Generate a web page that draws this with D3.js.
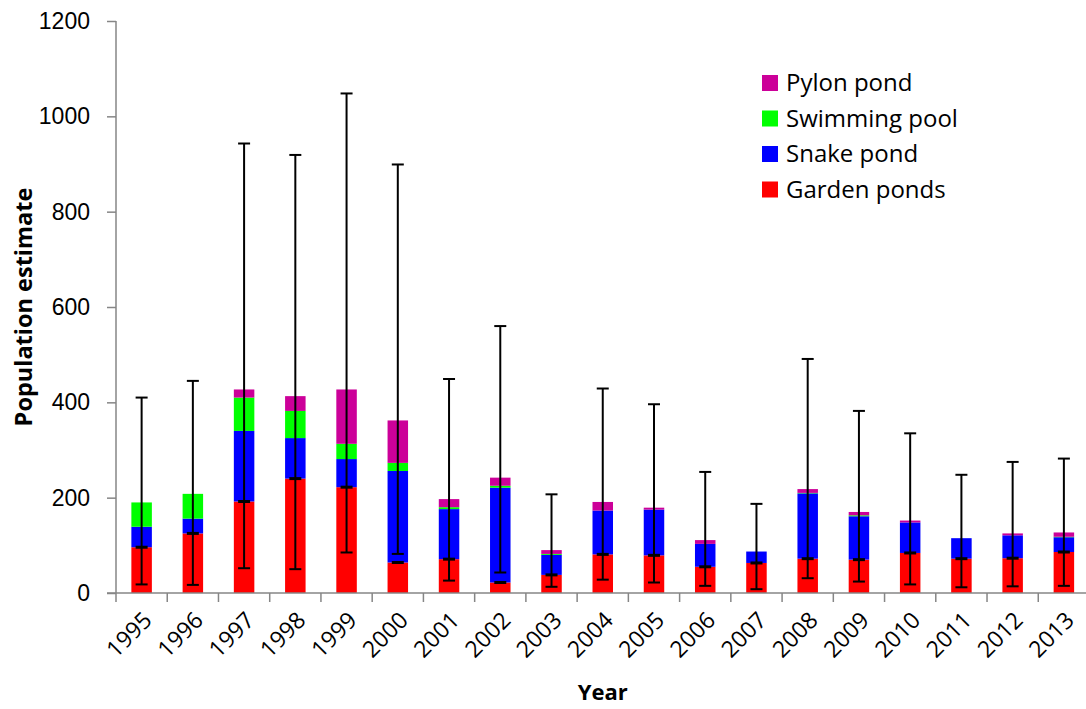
<!DOCTYPE html>
<html>
<head>
<meta charset="utf-8">
<script src="https://cdn.jsdelivr.net/npm/d3@7"></script>
<style>
  body { margin: 0; background: #fff; }
  svg { display: block; font-family: "Open Sans", sans-serif; }
</style>
</head>
<body>
<svg id="chart" width="1086" height="709"></svg>
<script>
// Data
const years = ["1995", "1996", "1997", "1998", "1999", "2000", "2001", "2002", "2003", "2004",
  "2005", "2006", "2007", "2008", "2009", "2010", "2011", "2012", "2013"];
const garden = [96, 125, 192, 240, 222, 64, 71, 22, 38, 81, 79, 55, 63, 72, 70, 84, 72, 73, 86];
const snake = [43, 31, 148, 85, 59, 192, 105, 199, 42, 92, 96, 48, 24, 137, 91, 64, 43, 48, 31];
const swimming = [51, 52, 70, 57, 32, 17, 4, 4, 2, 0, 0, 0, 0, 1, 2, 0, 0, 0, 1];
const pylon = [0, 0, 17, 31, 114, 89, 17, 17, 8, 18, 4, 8, 0, 8, 7, 4, 0, 4, 9];
const errLow = [18, 17, 52, 50, 85, 82, 26, 43, 13, 28, 22, 15, 8, 31, 24, 18, 12, 14, 15];
const errHigh = [410, 445, 943, 919, 1048, 899, 449, 560, 207, 429, 396, 254, 187, 491, 382, 335, 248, 275, 282];
const yTicks = [0, 200, 400, 600, 800, 1000, 1200];

const seriesNames = ["Garden ponds", "Snake pond", "Swimming pool", "Pylon pond"];
const seriesColors = ["#ff0000", "#0000ff", "#00ff00", "#cc0099"];

// Build table for d3.stack
const table = years.map((yr, i) => ({
  year: yr,
  "Garden ponds": garden[i],
  "Snake pond": snake[i],
  "Swimming pool": swimming[i],
  "Pylon pond": pylon[i]
}));

const margin = { top: 21, right: -3.5, bottom: 116, left: 116 },
  width = 1086 - margin.left - margin.right,
  height = 709 - margin.top - margin.bottom,
  axisColor = "#868686";

const svg = d3.select("#chart");
const g = svg.append("g")
  .attr("transform", "translate(" + margin.left + "," + margin.top + ")");

const x = d3.scaleBand().domain(years).range([0, width]).paddingInner(0.6).paddingOuter(0.3);
const y = d3.scaleLinear().domain([0, 1200]).range([height, 0]);

const stacked = d3.stack().keys(seriesNames)(table);

// Bars
g.selectAll(".series")
  .data(stacked)
  .join("g")
  .attr("fill", (d, i) => seriesColors[i])
  .selectAll("rect")
  .data(d => d)
  .join("rect")
  .attr("x", d => x(d.data.year))
  .attr("y", d => y(d[1]))
  .attr("width", x.bandwidth())
  .attr("height", d => y(d[0]) - y(d[1]));

// Error bars
const capW = 12;
const err = g.append("g").attr("stroke", "#000").attr("fill", "none");
years.forEach((yr, i) => {
  const cx = x(yr) + x.bandwidth() / 2;
  err.append("line")
    .attr("x1", cx).attr("x2", cx)
    .attr("y1", y(errLow[i])).attr("y2", y(errHigh[i]))
    .attr("stroke-width", 2);
  [errLow[i], errHigh[i]].forEach(v => {
    err.append("line")
      .attr("x1", cx - capW / 2).attr("x2", cx + capW / 2)
      .attr("y1", y(v)).attr("y2", y(v))
      .attr("stroke-width", 2);
  });
  // mark at the garden ponds value
  err.append("line")
    .attr("x1", cx - capW / 2).attr("x2", cx + capW / 2)
    .attr("y1", y(garden[i])).attr("y2", y(garden[i]))
    .attr("stroke-width", 3);
});

// Y axis
const yAxis = g.append("g")
  .call(d3.axisLeft(y).tickValues(yTicks).tickSize(9).tickPadding(17).tickFormat(d3.format("d")));
yAxis.select(".domain").attr("stroke", axisColor).attr("stroke-width", 1.5).attr("d", "M0," + height + "V0");
yAxis.selectAll(".tick line").attr("stroke", axisColor).attr("stroke-width", 1.5);
yAxis.selectAll(".tick text").attr("font-size", 23).attr("fill", "#000");

// X axis
const xAxis = g.append("g").attr("transform", "translate(0," + height + ")");
xAxis.append("line")
  .attr("x1", -9).attr("x2", width)
  .attr("stroke", axisColor).attr("stroke-width", 1.5);
d3.range(years.length + 1).forEach(i => {
  const bx = x.step() * i;
  xAxis.append("line")
    .attr("x1", bx).attr("x2", bx).attr("y1", 0).attr("y2", 9)
    .attr("stroke", axisColor).attr("stroke-width", 1.5);
});
xAxis.selectAll(".yearLabel")
  .data(years)
  .join("text")
  .attr("class", "yearLabel")
  .attr("text-anchor", "end")
  .attr("font-size", 23)
  .attr("transform", d => "translate(" + (x(d) + x.bandwidth() / 2 + 6) + ",23) rotate(-45)")
  .attr("dy", "0.35em")
  .text(d => d);

// Axis titles
svg.append("text")
  .attr("transform", "translate(32," + (margin.top + height / 2) + ") rotate(-90)")
  .attr("text-anchor", "middle")
  .attr("font-size", 23.5)
  .attr("font-weight", "bold")
  .text("Population estimate");

svg.append("text")
  .attr("x", margin.left + width / 2)
  .attr("y", 700)
  .attr("text-anchor", "middle")
  .attr("font-size", 22)
  .attr("font-weight", "bold")
  .text("Year");

// Legend, top entry is the top of the stack
const legend = svg.append("g").attr("transform", "translate(762,75)");
const legendOrder = [3, 2, 1, 0];
legendOrder.forEach((si, k) => {
  const row = legend.append("g").attr("transform", "translate(0," + k * 35.5 + ")");
  row.append("rect").attr("width", 16).attr("height", 16).attr("fill", seriesColors[si]);
  row.append("text")
    .attr("x", 24).attr("y", 8).attr("dy", "0.35em")
    .attr("font-size", 24)
    .text(seriesNames[si]);
});
</script>
</body>
</html>
